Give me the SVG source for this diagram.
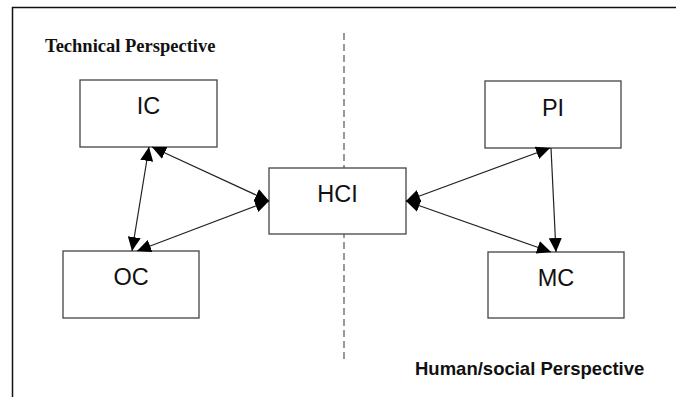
<svg xmlns="http://www.w3.org/2000/svg" width="676" height="397" viewBox="0 0 676 397">
<style>
.box{fill:#fff;stroke:#444;stroke-width:1.3}
.lbl{font-family:"Liberation Sans",Arial,sans-serif;font-size:23.5px;fill:#111;text-anchor:middle}
.conn{stroke:#222;stroke-width:1.2;fill:none}
.frame{stroke:#111;stroke-width:1.5;fill:none}
</style>
<defs>
<marker id="ah" markerUnits="userSpaceOnUse" markerWidth="15" markerHeight="13" viewBox="0 0 15 13" refX="14" refY="6.5" orient="auto-start-reverse">
<path d="M0,0 L14,6.5 L0,13 Z" fill="#000"/>
</marker>
</defs>
<rect width="676" height="397" fill="#fff"/>
<path class="frame" d="M12.5,397 V7.5 H676"/>
<line x1="344" y1="33" x2="344" y2="362" stroke="#555" stroke-width="1.2" stroke-dasharray="7,4"/>
<text x="45" y="52" font-family="'Liberation Serif','Times New Roman',serif" font-weight="bold" font-size="18.5" fill="#111">Technical Perspective</text>
<text x="415" y="375" font-family="'Liberation Sans',Arial,sans-serif" font-weight="bold" font-size="18.5" fill="#111">Human/social Perspective</text>
<g id="IC"><rect class="box" x="80" y="80" width="137" height="67"/><text class="lbl" x="148.5" y="114">IC</text></g>
<g id="OC"><rect class="box" x="63" y="251" width="136" height="67"/><text class="lbl" x="131" y="285">OC</text></g>
<g id="HCI"><rect class="box" x="269" y="168" width="137" height="66"/><text class="lbl" x="337.5" y="202">HCI</text></g>
<g id="PI"><rect class="box" x="485" y="81" width="136" height="67"/><text class="lbl" x="553" y="116">PI</text></g>
<g id="MC"><rect class="box" x="488" y="252" width="136" height="66"/><text class="lbl" x="556" y="286">MC</text></g>
<g id="connectors">
<line class="conn" x1="149" y1="147" x2="132" y2="251" marker-start="url(#ah)" marker-end="url(#ah)"/>
<line class="conn" x1="152" y1="147" x2="269" y2="201" marker-start="url(#ah)" marker-end="url(#ah)"/>
<line class="conn" x1="137" y1="251" x2="269" y2="201" marker-start="url(#ah)" marker-end="url(#ah)"/>
<line class="conn" x1="406" y1="201" x2="550" y2="148" marker-start="url(#ah)" marker-end="url(#ah)"/>
<line class="conn" x1="406" y1="201" x2="551" y2="252" marker-start="url(#ah)" marker-end="url(#ah)"/>
<line class="conn" x1="551" y1="148" x2="556" y2="252" marker-end="url(#ah)"/>
</g>
</svg>
